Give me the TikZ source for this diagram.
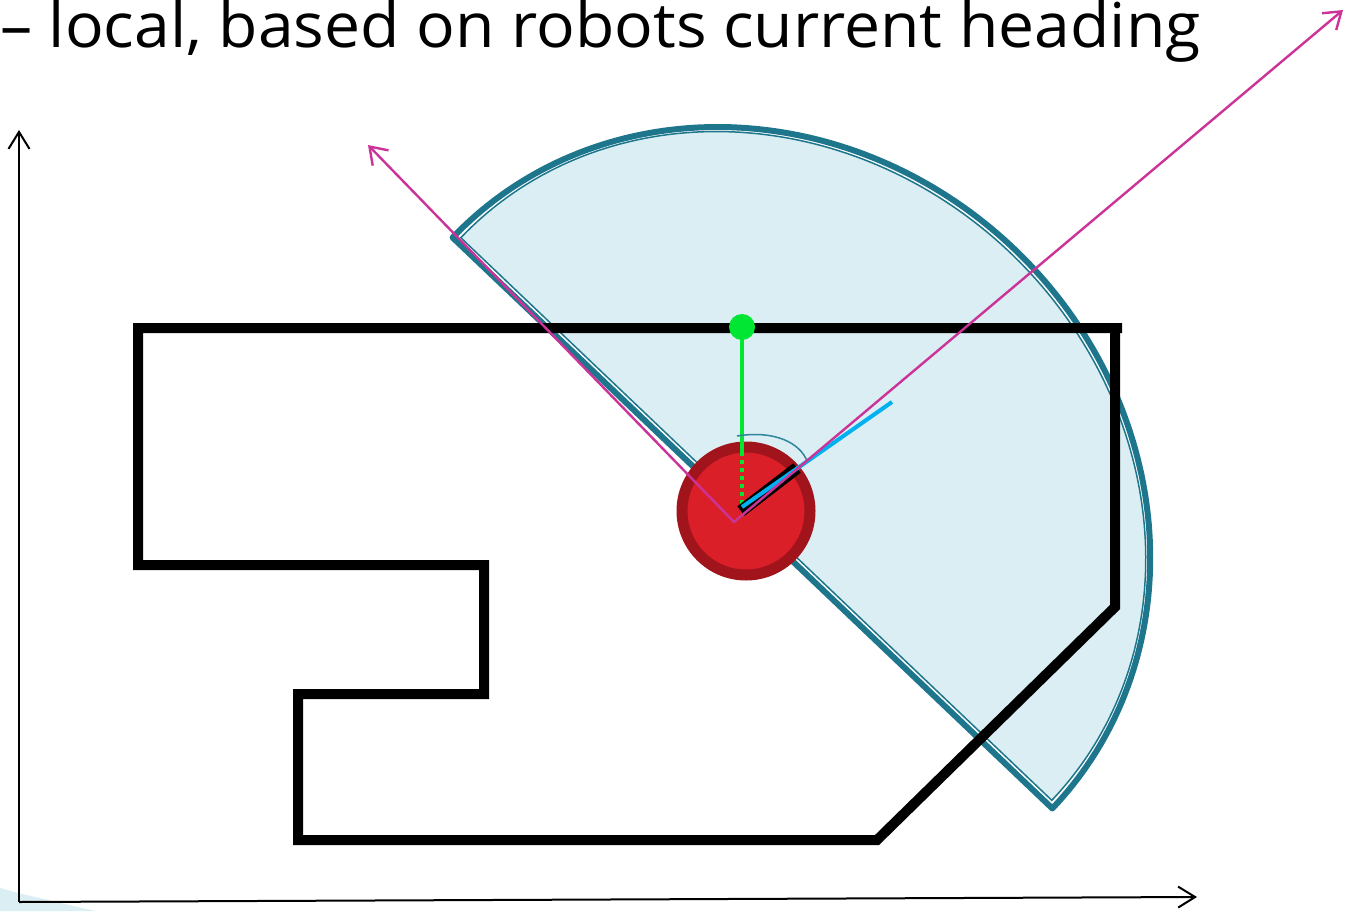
\documentclass[tikz,border=0pt]{standalone}
\usepackage{fontspec}
\setmainfont{Open Sans}
\usetikzlibrary{arrows.meta}
\definecolor{pieteal}{HTML}{1E768C}
\definecolor{pielight}{HTML}{DAEEF3}
\definecolor{raymag}{HTML}{CC3399}
\definecolor{greencol}{HTML}{00E632}
\definecolor{cyancol}{HTML}{00B0F0}
\definecolor{robotdark}{HTML}{A2141B}
\definecolor{robotred}{HTML}{DA1F28}
\definecolor{arcteal}{HTML}{31859C}
\begin{document}
\begin{tikzpicture}[x=1pt,y=-1pt,
  room/.style={line width=10pt, draw=black, line join=miter},
  axis/.style={line width=2pt, draw=black, -{Straight Barb[length=17pt,width=21pt]}},
  ray/.style={line width=2.4pt, draw=raymag, line join=miter,
     {Straight Barb[length=16pt,width=22pt]}-{Straight Barb[length=16pt,width=22pt]}},
  greenline/.style={line width=4pt, draw=greencol},
]
\useasboundingbox (0,0) rectangle (1345,911);

% light blue fragment at bottom-left
\fill[pielight] (0,888) -- (18,893) -- (95,911) -- (0,911) -- cycle;

% title
\node[anchor=base west, inner sep=0pt] (title) at (0,47)
  {\resizebox{1200pt}{47pt}{– local, based on robots current heading}};

% axes
\coordinate (O) at (19,902);
\coordinate (Ytip) at (19,130);
\coordinate (Xtip) at (1197,897);
\draw[axis] (O) -- (Ytip);
\draw[axis] (O) -- (Xtip);

% sensor pie
\begin{scope}[shift={(752.5,523)}, rotate=-43.59]
  \draw[line width=6pt, draw=pieteal, fill=white, line join=round]
    plot[domain=0:-180, samples=150] ({414*cos(\x)},{379*sin(\x)}) -- cycle;
  \draw[line width=1.5pt, draw=pieteal, fill=pielight, line join=miter]
    plot[domain=0:-180, samples=150] ({408*cos(\x)},{-5.5+368*sin(\x)}) -- cycle;
\end{scope}

% room outline
\coordinate (r1) at (1115,328);
\coordinate (r2) at (1115,607);
\coordinate (r3) at (877,840);
\coordinate (r4) at (298,840);
\coordinate (r5) at (298,694);
\coordinate (r6) at (484,694);
\coordinate (r7) at (484,565);
\coordinate (r8) at (138,565);
\coordinate (r9) at (138,328);
\coordinate (r10) at (1122,328);
\draw[room] (r1) -- (r2) -- (r3) -- (r4) -- (r5) -- (r6) -- (r7) -- (r8) -- (r9) -- (r10);

% robot
\coordinate (rc) at (746,511);
\draw[line width=11pt, draw=robotdark, fill=robotred] (rc) circle[radius=64];

% green distance line
\coordinate (g) at (742,327);
\coordinate (gm) at (742,452);
\coordinate (ge) at (742,507);
\draw[greenline] (g) -- (gm);
\draw[greenline, dash pattern=on 4pt off 4pt] (gm) -- (ge);
\fill[greencol] (g) circle[radius=13];

% heading bar
\coordinate (hb1) at (741,511);
\coordinate (hb2) at (797,468);
\draw[line width=12pt, draw=black] (hb1) -- (hb2);
\coordinate (c1) at (742,507);
\coordinate (c2) at (892,402);
\draw[line width=4pt, draw=cyancol] (c1) -- (c2);

% angle arc
\coordinate (a1) at (737,436);
\coordinate (a2) at (807,461);
\draw[line width=1.5pt, draw=arcteal] (a1) .. controls (775,430) and (800,443) .. (a2);

% local axes (magenta)
\coordinate (mv) at (734,522);
\coordinate (mt1) at (368,145);
\coordinate (mt2) at (1343,10);
\draw[ray] (mt1) -- (mv) -- (mt2);
\end{tikzpicture}
\end{document}
